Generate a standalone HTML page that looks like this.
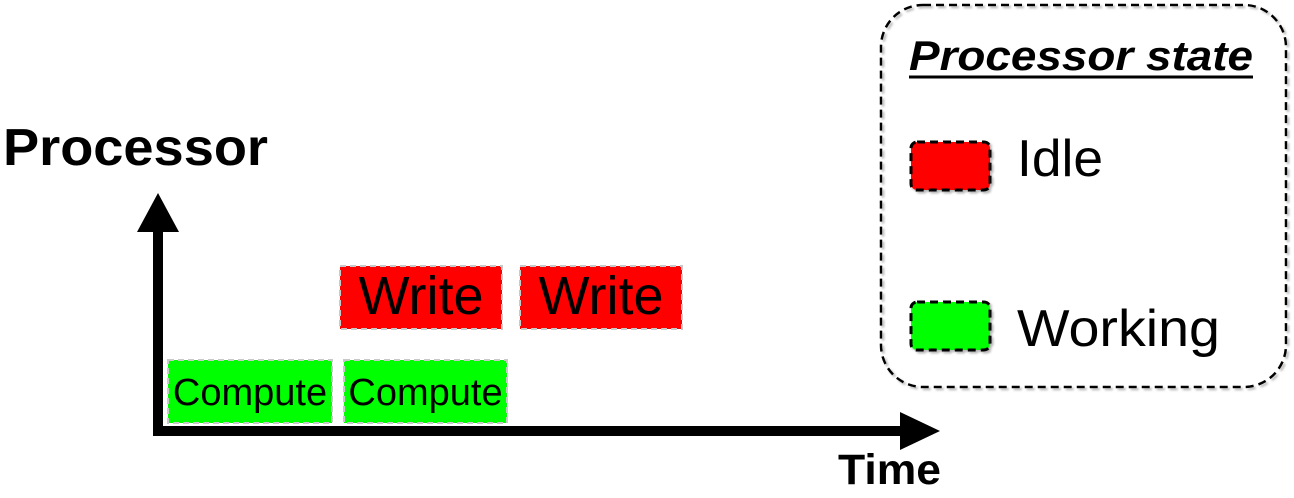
<!DOCTYPE html>
<html><head><meta charset="utf-8"><style>
html,body{margin:0;padding:0;background:#fff;}
svg{display:block;font-family:"Liberation Sans",Arial,sans-serif;}
</style></head><body>
<svg id="chart" width="1294" height="498" viewBox="0 0 1294 498">
<defs>
<filter id="sh" x="-10%" y="-10%" width="130%" height="130%"><feDropShadow dx="2" dy="2" stdDeviation="1" flood-color="#999" flood-opacity="0.7"/></filter>
</defs>
<g id="marks"></g>
<g>
<line x1="158" y1="431" x2="158" y2="228" stroke="#000" stroke-width="10"/>
<polygon points="158,193 137,232 179,232" fill="#000"/>
</g>
<g>
<line x1="153" y1="431" x2="905" y2="431" stroke="#000" stroke-width="10"/>
<polygon points="940,431 900,412 900,450" fill="#000"/>
</g>
<text x="3" y="165" font-size="52" font-weight="bold" textLength="265" lengthAdjust="spacingAndGlyphs">Processor</text>
<text x="838" y="484" font-size="43" font-weight="bold" textLength="103" lengthAdjust="spacingAndGlyphs">Time</text>
<g>
<rect x="881" y="5" width="405" height="382" rx="42" fill="none" stroke="#000" stroke-width="2.5" stroke-dasharray="8,5" filter="url(#sh)"/>
<text x="909" y="70" font-size="42" font-weight="bold" font-style="italic" textLength="344" lengthAdjust="spacingAndGlyphs">Processor state</text>
<line x1="909" y1="77" x2="1253" y2="77" stroke="#000" stroke-width="3"/>
<g>
<rect x="911" y="142" width="79" height="48" rx="6" fill="#ff0000" stroke="#000" stroke-width="3" stroke-dasharray="8,5" filter="url(#sh)"/>
<text x="1017" y="176" font-size="52" textLength="86" lengthAdjust="spacingAndGlyphs">Idle</text>
</g>
<g>
<rect x="911" y="302" width="79" height="48" rx="6" fill="#00ff00" stroke="#000" stroke-width="3" stroke-dasharray="8,5" filter="url(#sh)"/>
<text x="1017" y="346" font-size="52" textLength="203" lengthAdjust="spacingAndGlyphs">Working</text>
</g>
</g>
</svg>
<script>
// task data (time units)
const taskLabels = ["Compute","Compute","Write","Write"];
const taskStart = [1.0, 18.6, 18.2, 36.2];
const taskEnd   = [17.4, 34.9, 34.4, 52.4];
const taskRow   = [0, 0, 1, 1];   // 0 = compute row, 1 = write row
const taskState = ["working","working","idle","idle"];

const xScale = t => 158 + t * 10;
const rowTop = r => 360 - r * 94;
const rowH = 63;
const colors = {working:"#00ff00", idle:"#ff0000"};
const NS = "http://www.w3.org/2000/svg";
const g = document.getElementById("marks");
for (let i = 0; i < taskLabels.length; i++) {
  const x0 = xScale(taskStart[i]), x1 = xScale(taskEnd[i]), y = rowTop(taskRow[i]);
  const grp = document.createElementNS(NS, "g");
  
  
  const r = document.createElementNS(NS, "rect");
  r.setAttribute("x", x0); r.setAttribute("y", y);
  r.setAttribute("width", x1 - x0); r.setAttribute("height", rowH);
  r.setAttribute("fill", colors[taskState[i]]);
  r.setAttribute("stroke", "#c8c8c8"); r.setAttribute("stroke-width", "2");
  r.setAttribute("stroke-dasharray", "6,4");
  grp.appendChild(r);
  const t = document.createElementNS(NS, "text");
  t.setAttribute("x", (x0 + x1) / 2);
  t.setAttribute("text-anchor", "middle");
  const big = taskRow[i] === 1;
  t.setAttribute("y", y + (big ? 48 : 45));
  t.setAttribute("font-size", big ? 54 : 38);
  t.textContent = taskLabels[i];
  grp.appendChild(t);
  g.appendChild(grp);
}
</script>
</body></html>
